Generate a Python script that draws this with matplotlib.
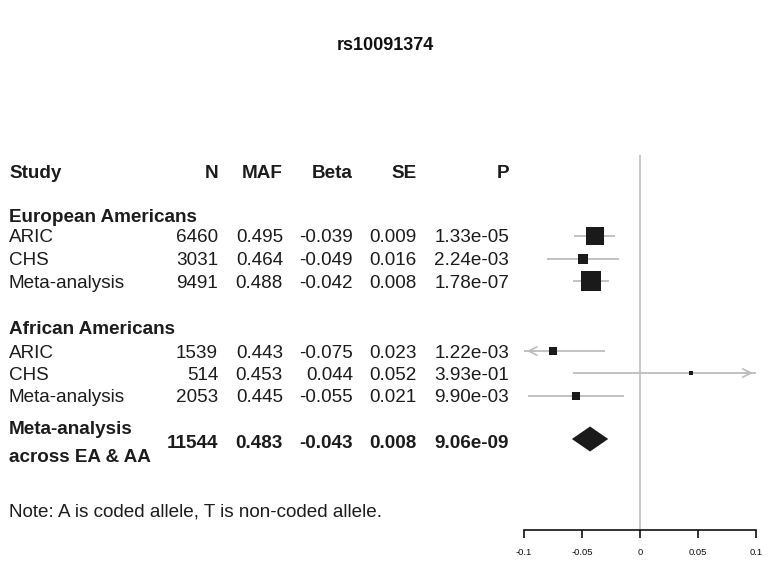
import matplotlib
matplotlib.use("Agg")
import matplotlib.pyplot as plt
from matplotlib.transforms import blended_transform_factory

plt.rcParams['font.family'] = ['Liberation Sans', 'DejaVu Sans']

# ---------------- data ----------------
title = "rs10091374"
headers = ["Study", "N", "MAF", "Beta", "SE", "P"]
groups = ["European Americans", "African Americans"]
studies = ["ARIC", "CHS", "Meta-analysis"]

ea_n = [6460, 3031, 9491]
ea_maf = [0.495, 0.464, 0.488]
ea_beta = [-0.039, -0.049, -0.042]
ea_se = [0.009, 0.016, 0.008]
ea_p = [1.33e-05, 2.24e-03, 1.78e-07]

aa_n = [1539, 514, 2053]
aa_maf = [0.443, 0.453, 0.445]
aa_beta = [-0.075, 0.044, -0.055]
aa_se = [0.023, 0.052, 0.021]
aa_p = [1.22e-03, 3.93e-01, 9.90e-03]

comb_label = ["Meta-analysis", "across EA & AA"]
comb_n = 11544
comb_maf = 0.483
comb_beta = -0.043
comb_se = 0.008
comb_p = 9.06e-09

note = "Note: A is coded allele, T is non-coded allele."
xticks = [-0.1, -0.05, 0, 0.05, 0.1]
xticklabels = ["-0.1", "-0.05", "0", "0.05", "0.1"]

# ---------------- layout ----------------
W, H = 770, 565
fig = plt.figure(figsize=(W / 100, H / 100), dpi=100)
ax_left, ax_right, ax_top, ax_bot = 524, 755.7, 155, 530
ax = fig.add_axes([ax_left / W, (H - ax_bot) / H, (ax_right - ax_left) / W, (ax_bot - ax_top) / H])
ax.set_xlim(-0.1, 0.1)
ax.set_ylim(ax_bot, ax_top)  # y in pixel rows from top

tr = blended_transform_factory(fig.transFigure, ax.transData)
FS = 13.6
col_x = [9, 218, 283, 353, 417, 509]  # pixel positions (Study left, rest right-aligned)

y_header = 171
y_groups = [216, 328]
y_rows = [[236, 258.5, 281], [351, 373, 396]]
y_comb_text = [428, 455]
y_comb_num = 441
y_diamond = 439
y_note = 510

def txt(xp, y, s, ha='right', bold=False, size=FS):
    ax.text(xp / W, y, s, transform=tr, ha=ha, va='center_baseline', fontsize=size,
            fontweight='bold' if bold else 'normal', color='#1c1c1c', clip_on=False)

fig.text(385 / W, 1 - 45 / H, title, ha='center', va='center', fontsize=13, fontweight='bold', color='#111111')

for i, h in enumerate(headers):
    txt(col_x[i], y_header, h, ha='left' if i == 0 else 'right', bold=True)

grey = '#bdbdbd'
box = '#1a1a1a'
groupdata = [(ea_n, ea_maf, ea_beta, ea_se, ea_p), (aa_n, aa_maf, aa_beta, aa_se, aa_p)]
for g, (gname, (ns, mafs, betas, ses, ps)) in enumerate(zip(groups, groupdata)):
    txt(col_x[0], y_groups[g], gname, ha='left', bold=True)
    for k, st in enumerate(studies):
        y = y_rows[g][k]
        txt(col_x[0], y, st, ha='left')
        txt(col_x[1], y, f"{ns[k]}")
        txt(col_x[2], y, f"{mafs[k]:.3f}")
        txt(col_x[3], y, f"{betas[k]:.3f}")
        txt(col_x[4], y, f"{ses[k]:.3f}")
        txt(col_x[5], y, f"{ps[k]:.2e}")
        lo = betas[k] - 1.96 * ses[k]
        hi = betas[k] + 1.96 * ses[k]
        lo_c, hi_c = max(lo, -0.1), min(hi, 0.1)
        ax.plot([lo_c, hi_c], [y, y], color=grey, lw=1.3, solid_capstyle='butt', zorder=2, clip_on=False)
        if lo < -0.1:
            ax.annotate('', xy=(-0.1, y), xytext=(lo_c + 0.012, y),
                        arrowprops=dict(arrowstyle='->,head_length=0.6,head_width=0.3', color=grey, lw=1.2),
                        annotation_clip=False)
        if hi > 0.1:
            ax.annotate('', xy=(0.1, y), xytext=(hi_c - 0.012, y),
                        arrowprops=dict(arrowstyle='->,head_length=0.6,head_width=0.3', color=grey, lw=1.2),
                        annotation_clip=False)
        size_px = 0.165 / ses[k]
        ax.plot([betas[k]], [y], marker='s', markersize=size_px * 0.72, color=box, mec=box, mew=0,
                zorder=3, clip_on=False)

# combined row
txt(col_x[0], y_comb_text[0], comb_label[0], ha='left', bold=True)
txt(col_x[0], y_comb_text[1], comb_label[1], ha='left', bold=True)
txt(col_x[1], y_comb_num, f"{comb_n}", bold=True)
txt(col_x[2], y_comb_num, f"{comb_maf:.3f}", bold=True)
txt(col_x[3], y_comb_num, f"{comb_beta:.3f}", bold=True)
txt(col_x[4], y_comb_num, f"{comb_se:.3f}", bold=True)
txt(col_x[5], y_comb_num, f"{comb_p:.2e}", bold=True)
lo = comb_beta - 1.96 * comb_se
hi = comb_beta + 1.96 * comb_se
hh = 12.5
ax.fill([lo, comb_beta, hi, comb_beta], [y_diamond, y_diamond - hh, y_diamond, y_diamond + hh],
        color=box, lw=0, zorder=3)

txt(col_x[0], y_note, note, ha='left')

# axis styling
ax.axvline(0, color='#c4c4c4', lw=1.3, zorder=1)
for s in ['top', 'right', 'left']:
    ax.spines[s].set_visible(False)
ax.spines['bottom'].set_bounds(-0.1, 0.1)
ax.spines['bottom'].set_linewidth(1.2)
ax.spines['bottom'].set_color('#111111')
ax.set_yticks([])
ax.set_xticks(xticks)
ax.set_xticklabels(xticklabels, fontsize=6.8)
ax.tick_params(axis='x', length=6, width=1.2, color='#111111', pad=7, labelcolor='#111111')
ax.patch.set_alpha(0)

fig.savefig("out.png", dpi=100)
